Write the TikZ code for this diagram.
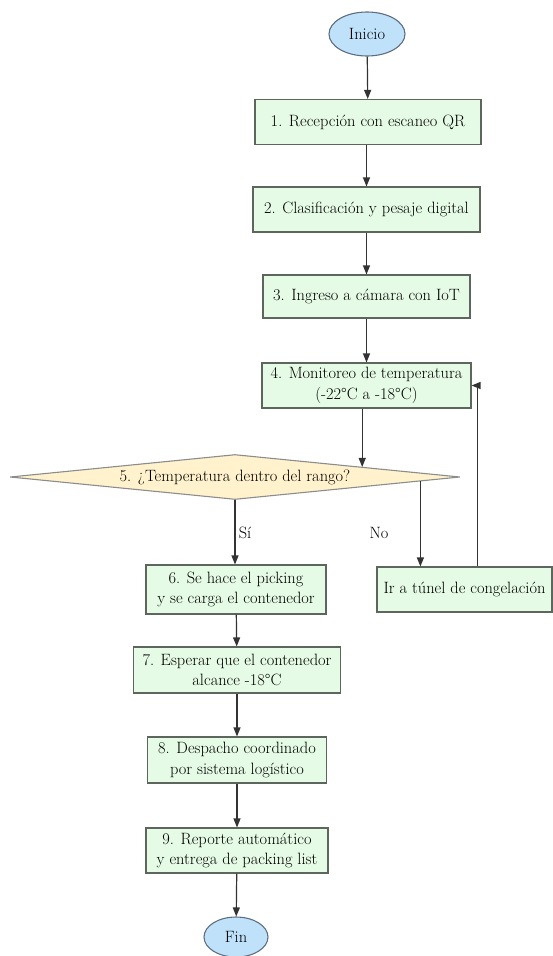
\documentclass[tikz,border=0pt]{standalone}
\usepackage{fontspec}
\usetikzlibrary{shapes.geometric,arrows.meta,calc}
\definecolor{boxfill}{HTML}{E6FBE6}
\definecolor{boxdraw}{HTML}{5C665C}
\definecolor{decfill}{HTML}{FFF2CC}
\definecolor{decdraw}{HTML}{8C8C8C}
\definecolor{termfill}{HTML}{BFE2FA}
\definecolor{termdraw}{HTML}{5E6E80}
\definecolor{arrcol}{HTML}{333333}
\begin{document}
\begin{tikzpicture}[x=1pt,y=-1pt,
  every node/.style={font=\rmfamily\fontsize{16.4}{20.5}\selectfont, text=black},
  stepbox/.style={rectangle, draw=boxdraw, fill=boxfill, line width=1.1pt, align=center, inner sep=0pt},
  term/.style={ellipse, draw=termdraw, fill=termfill, line width=1.1pt, inner sep=0pt},
  decision/.style={diamond, shape aspect=10, draw=decdraw, fill=decfill, line width=1.1pt, inner sep=0pt},
  arr/.style={draw=arrcol, line width=1.2pt, -{Triangle[length=9pt,width=7pt]}},
  lbl/.style={font=\rmfamily\fontsize{16.4}{20.5}\selectfont}
]
\useasboundingbox (0,0) rectangle (553,956);

\node[term, minimum width=76pt, minimum height=44pt] (inicio) at (367,34) {Inicio};
\node[stepbox, minimum width=226pt, minimum height=45pt] (b1) at (368,122) {1. Recepción con escaneo QR};
\node[stepbox, minimum width=227pt, minimum height=45pt] (b2) at (366.5,209.5) {2. Clasificación y pesaje digital};
\node[stepbox, minimum width=207pt, minimum height=43pt] (b3) at (366.5,296.5) {3. Ingreso a cámara con IoT};
\node[stepbox, minimum width=209pt, minimum height=45pt] (b4) at (366.5,385.5) {4. Monitoreo de temperatura\\(-22°C a -18°C)};
\node[decision, minimum width=450pt, minimum height=45pt] (d5) at (235,477) {5. ¿Temperatura dentro del rango?};
\node[stepbox, minimum width=180pt, minimum height=49pt] (b6) at (236,589.5) {6. Se hace el picking\\y se carga el contenedor};
\node[stepbox, minimum width=175pt, minimum height=45pt] (tun) at (464.5,589.5) {Ir a túnel de congelación};
\node[stepbox, minimum width=207pt, minimum height=46pt] (b7) at (237,670) {7. Esperar que el contenedor\\alcance -18°C};
\node[stepbox, minimum width=179pt, minimum height=46pt] (b8) at (237,760) {8. Despacho coordinado\\por sistema logístico};
\node[stepbox, minimum width=182pt, minimum height=45pt] (b9) at (237,850.5) {9. Reporte automático\\y entrega de packing list};
\node[term, minimum width=64pt, minimum height=40pt] (fin) at (236,937) {Fin};

\draw[arr] (inicio) -- (b1);
\draw[arr] (b1.south -| b2.north) -- (b2.north);
\draw[arr] (b2) -- (b3);
\draw[arr] (b3) -- (b4);
\coordinate (d5in) at ($(d5.north)!0.564!(d5.east)$);
\draw[arr] (b4.south -| d5in) -- (d5in);
\draw[arr] (d5.south) -- (b6.north -| d5.south);
\node[lbl] (si) at (245,533) {Sí};
\coordinate (d5out) at ($(d5.south)!0.822!(d5.east)$);
\draw[arr] (d5out) -- (d5out |- tun.north);
\node[lbl] (no) at (379,533) {No};
\coordinate (fb) at ([xshift=13pt]tun.north);
\draw[arr] (fb) |- (b4.east);
\draw[arr] (b6) -- (b7);
\draw[arr] (b7) -- (b8);
\draw[arr] (b8) -- (b9);
\draw[arr] (b9) -- (fin);
\end{tikzpicture}
\end{document}
